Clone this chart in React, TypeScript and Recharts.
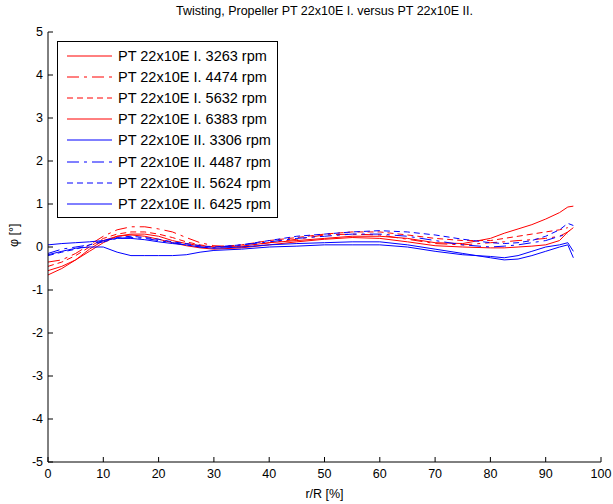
import { LineChart, Line, XAxis, YAxis, Label } from 'recharts'

// radial position r/R [%]
const rR = [0, 2.5, 5, 7.5, 10, 12.5, 15, 17.5, 20, 22.5, 25, 27.5, 30, 35, 40, 45, 50, 55, 60, 65, 70, 75, 80, 82.5, 85, 87.5, 90, 92.5, 94, 95]

// twist angle phi [deg]
const pt1_3263 = [-0.55, -0.45, -0.3, -0.1, 0.1, 0.25, 0.3, 0.3, 0.25, 0.15, 0.08, 0.03, 0.0, 0.02, 0.1, 0.15, 0.2, 0.25, 0.25, 0.2, 0.1, 0.08, 0.2, 0.32, 0.42, 0.52, 0.65, 0.8, 0.93, 0.95]
const pt1_4474 = [-0.35, -0.3, -0.15, 0.05, 0.25, 0.4, 0.47, 0.47, 0.42, 0.35, 0.22, 0.1, 0.03, 0.0, 0.1, 0.18, 0.28, 0.3, 0.28, 0.18, 0.08, 0.05, 0.1, 0.12, 0.15, 0.17, 0.2, 0.25, 0.35, 0.45]
const pt1_5632 = [-0.45, -0.35, -0.2, 0.0, 0.2, 0.3, 0.35, 0.35, 0.3, 0.22, 0.12, 0.05, 0.0, 0.05, 0.15, 0.22, 0.3, 0.35, 0.35, 0.28, 0.2, 0.15, 0.15, 0.2, 0.25, 0.3, 0.35, 0.4, 0.45, null]
const pt1_6383 = [-0.65, -0.5, -0.3, -0.05, 0.15, 0.25, 0.28, 0.25, 0.18, 0.1, 0.03, -0.02, -0.05, -0.02, 0.05, 0.12, 0.18, 0.22, 0.2, 0.12, 0.03, 0.0, -0.02, -0.02, 0.0, 0.02, 0.05, 0.15, 0.35, 0.45]
const pt2_3306 = [0.05, 0.08, 0.1, 0.12, 0.15, 0.2, 0.2, 0.17, 0.12, 0.08, 0.05, 0.0, -0.03, 0.0, 0.05, 0.08, 0.1, 0.12, 0.12, 0.05, -0.05, -0.15, -0.25, -0.3, -0.28, -0.2, -0.1, 0.0, 0.05, -0.25]
const pt2_4487 = [-0.15, -0.05, 0.0, 0.05, 0.12, 0.2, 0.22, 0.2, 0.15, 0.1, 0.05, 0.0, -0.02, 0.05, 0.12, 0.2, 0.25, 0.3, 0.3, 0.25, 0.15, 0.05, 0.0, 0.02, 0.05, 0.1, 0.15, 0.25, 0.3, null]
const pt2_5624 = [-0.2, -0.12, -0.05, 0.05, 0.15, 0.22, 0.25, 0.22, 0.18, 0.12, 0.08, 0.03, 0.0, 0.05, 0.15, 0.25, 0.3, 0.35, 0.38, 0.35, 0.28, 0.18, 0.1, 0.08, 0.1, 0.15, 0.25, 0.4, 0.55, 0.5]
const pt2_6425 = [-0.18, -0.1, -0.03, 0.0, 0.0, -0.12, -0.2, -0.2, -0.2, -0.2, -0.18, -0.12, -0.08, -0.05, 0.0, 0.02, 0.05, 0.05, 0.05, 0.0, -0.1, -0.18, -0.22, -0.25, -0.2, -0.1, 0.0, 0.05, 0.1, -0.1]

const xTicks = [0, 10, 20, 30, 40, 50, 60, 70, 80, 90, 100]
const yTicks = [-5, -4, -3, -2, -1, 0, 1, 2, 3, 4, 5]

const series = [
  { key: 'a', name: 'PT 22x10E I. 3263 rpm', values: pt1_3263, color: '#ff0000', dash: undefined },
  { key: 'b', name: 'PT 22x10E I. 4474 rpm', values: pt1_4474, color: '#ff0000', dash: '12 5 3 5' },
  { key: 'c', name: 'PT 22x10E I. 5632 rpm', values: pt1_5632, color: '#ff0000', dash: '6 4' },
  { key: 'd', name: 'PT 22x10E I. 6383 rpm', values: pt1_6383, color: '#ff0000', dash: undefined },
  { key: 'e', name: 'PT 22x10E II. 3306 rpm', values: pt2_3306, color: '#0000ff', dash: undefined },
  { key: 'f', name: 'PT 22x10E II. 4487 rpm', values: pt2_4487, color: '#0000ff', dash: '12 5 3 5' },
  { key: 'g', name: 'PT 22x10E II. 5624 rpm', values: pt2_5624, color: '#0000ff', dash: '6 4' },
  { key: 'h', name: 'PT 22x10E II. 6425 rpm', values: pt2_6425, color: '#0000ff', dash: undefined },
]

const data = rR.map((r, i) => {
  const row: Record<string, number | null> = { r }
  series.forEach((s) => {
    row[s.key] = s.values[i]
  })
  return row
})

const font = 'Arial, "Liberation Sans", sans-serif'

function LegendBox() {
  return (
    <div
      style={{
        position: 'absolute',
        left: 57,
        top: 41,
        width: 219,
        height: 172,
        border: '1px solid #000',
        background: '#fff',
        fontFamily: font,
        fontSize: 14.5,
        paddingTop: 3,
        boxSizing: 'content-box',
      }}
    >
      {series.map((s) => (
        <div key={s.key} style={{ display: 'flex', alignItems: 'center', height: 21.2 }}>
          <svg width={56} height={10} style={{ marginLeft: 9, flex: 'none' }}>
            <line x1={0} y1={5} x2={45} y2={5} stroke={s.color} strokeDasharray={s.dash} />
          </svg>
          <span style={{ whiteSpace: 'nowrap', marginLeft: -5 }}>{s.name}</span>
        </div>
      ))}
    </div>
  )
}

export default function App() {
  return (
    <div style={{ position: 'absolute', left: 0, top: 0, width: 613, height: 504, background: '#fff' }}>
      <div
        style={{
          position: 'absolute',
          top: 4,
          left: 48,
          width: 553,
          textAlign: 'center',
          fontFamily: font,
          fontSize: 12.5,
        }}
      >
        Twisting, Propeller PT 22x10E I. versus PT 22x10E II.
      </div>
      <LineChart
        width={613}
        height={504}
        data={data}
        margin={{ top: 32, right: 12, left: 0, bottom: 0 }}
        style={{ fontFamily: font }}
      >
        <XAxis
          dataKey="r"
          type="number"
          domain={[0, 100]}
          ticks={xTicks}
          allowDataOverflow
          height={42}
          stroke="#000"
          tickSize={-5}
          tickMargin={12}
          tick={{ fill: '#000', fontSize: 12.5 }}
        >
          <Label value="r/R [%]" position="insideBottom" offset={6} fill="#000" fontSize={12.5} />
        </XAxis>
        <XAxis
          xAxisId="top"
          dataKey="r"
          type="number"
          orientation="top"
          domain={[0, 100]}
          ticks={xTicks}
          allowDataOverflow
          height={0}
          stroke="#000"
          tickSize={-5}
          tick={false}
        />
        <YAxis
          type="number"
          domain={[-5, 5]}
          ticks={yTicks}
          allowDataOverflow
          width={48}
          stroke="#000"
          tickSize={-5}
          tickMargin={10}
          tick={{ fill: '#000', fontSize: 12.5 }}
        >
          <Label value="φ [°]" angle={-90} position="insideLeft" offset={14} fill="#000" fontSize={12.5} />
        </YAxis>
        <YAxis
          yAxisId="right"
          type="number"
          orientation="right"
          domain={[-5, 5]}
          ticks={yTicks}
          allowDataOverflow
          width={0}
          stroke="#000"
          tickSize={-5}
          tick={false}
        />
        {series.map((s) => (
          <Line
            key={s.key}
            dataKey={s.key}
            name={s.name}
            type="linear"
            stroke={s.color}
            strokeWidth={1}
            strokeDasharray={s.dash}
            dot={false}
            connectNulls={false}
            isAnimationActive={false}
          />
        ))}
      </LineChart>
      <LegendBox />
    </div>
  )
}
